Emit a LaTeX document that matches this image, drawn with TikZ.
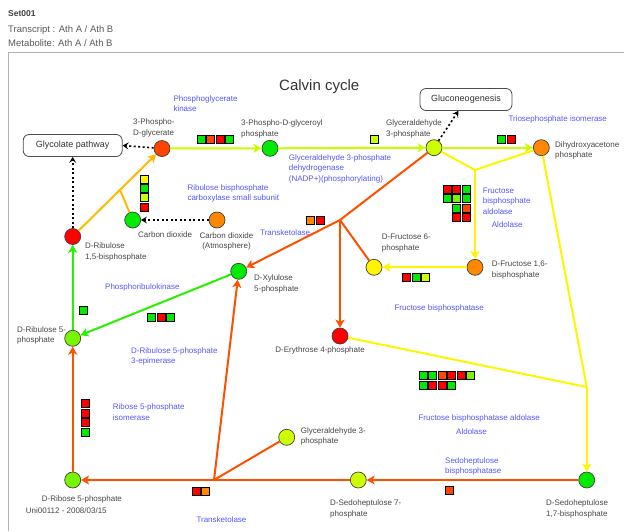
\documentclass[tikz,border=0pt]{standalone}
\usepackage{fontspec}
\setmainfont{Liberation Sans}
\usetikzlibrary{arrows.meta,calc,positioning}

% metabolite / expression colours
\definecolor{mRed}{RGB}{255,0,0}
\definecolor{mOrangeRed}{RGB}{255,69,0}
\definecolor{mOrange}{RGB}{255,136,0}
\definecolor{mGreen}{RGB}{0,235,0}
\definecolor{mLime}{RGB}{120,245,0}
\definecolor{mYelGreen}{RGB}{204,255,0}
\definecolor{mYellow}{RGB}{255,245,0}
% reaction colours
\definecolor{lnOrangeRed}{RGB}{255,80,0}
\definecolor{lnYelGreen}{RGB}{200,255,0}
\definecolor{lnYellow}{RGB}{255,245,0}
\definecolor{lnGreen}{RGB}{40,240,0}
\definecolor{lnAmber}{RGB}{255,185,0}
% text colours
\definecolor{enzblue}{RGB}{85,85,255}
\definecolor{labgray}{RGB}{70,70,70}

\tikzset{
  % metabolites and linked pathways
  metab/.style={circle,draw=black!75,fill=#1,line width=0.7pt,inner sep=0pt,minimum size=16pt},
  pathbox/.style={draw=black!70,rounded corners=6pt,line width=0.8pt,minimum height=22pt,
    inner sep=0pt,font=\fontsize{9}{11}\selectfont,text=black!80},
  % texts
  header/.style={inner sep=0pt,anchor=north west,font=\fontsize{9.5}{11}\selectfont,text=black!65},
  title/.style={inner sep=0pt,anchor=north west,font=\fontsize{15}{18}\selectfont,text=black!80},
  mlabel/.style={inner sep=0pt,align=left,anchor=north west,font=\fontsize{8}{10.5}\selectfont,text=labgray},
  enzyme/.style={mlabel,text=enzblue},
  % reactions: plain, with arrow, and dotted links to other pathways
  react/.style={draw=#1,line width=2pt,line join=round},
  reacto/.style={react=#1,-{Stealth[length=8pt,width=9pt,inset=2pt]}},
  link/.style={line width=1.6pt,dash pattern=on 2pt off 2.5pt,-{Stealth[length=6pt,width=7pt,inset=2.5pt]}},
  % expression squares
  expr/.style={draw=black,fill=#1,line width=0.8pt,inner sep=0pt,minimum size=8pt},
}

\begin{document}
\begin{tikzpicture}[x=1pt,y=-1pt]
  \useasboundingbox (0,0) rectangle (624,531);

  % header and frame
  \node[header,font=\bfseries\fontsize{8.5}{10}\selectfont,text=black!75] (setname) at (8,10.8) {Set001};
  \node[header] (transcript) at (8,25.6) {Transcript : Ath A / Ath B};
  \node[header] (metabolite) at (8,39.3) {Metabolite: Ath A / Ath B};
  \draw[black!30,line width=1pt] (8,531) -- (8,52.5) -- (624,52.5);
  \node[title] (title) at (279,79.5) {Calvin cycle};

  % other pathways
  \node[pathbox,minimum width=99pt] (glycolate) at (72.7,145.5) {Glycolate pathway};
  \node[pathbox,minimum width=92pt] (glucon) at (466,99.5) {Gluconeogenesis};

  % metabolites
  \node[metab=mOrangeRed] (pga) at (162,148.5) {};
  \node[metab=mGreen] (bpga) at (270,148.3) {};
  \node[metab=mYelGreen] (gap) at (434,147.7) {};
  \node[metab=mOrange] (dhap) at (541.3,147.7) {};
  \node[metab=mRed] (rubp) at (72.7,236.5) {};
  \node[metab=mGreen] (co2) at (132.7,220) {};
  \node[metab=mOrange] (co2atm) at (217,220) {};
  \node[metab=mGreen] (xu5p) at (238.7,271.3) {};
  \node[metab=mLime] (ru5p) at (72.7,338.3) {};
  \node[metab=mYellow] (f6p) at (374,267.3) {};
  \node[metab=mOrange] (fbp) at (475,267.3) {};
  \node[metab=mRed] (e4p) at (340,336) {};
  \node[metab=mYelGreen] (gap2) at (286.7,437.3) {};
  \node[metab=mLime] (r5p) at (72.7,480) {};
  \node[metab=mYelGreen] (s7p) at (358.3,480) {};
  \node[metab=mGreen] (sbp) at (586.7,480) {};

  % branch points
  \coordinate (co2fix) at ($(rubp)!0.53!(pga)$);
  \coordinate (tpi) at (475,170);
  \coordinate (tk1) at (340,220);
  \coordinate (sbpj) at (586.7,387);
  \coordinate (tk2) at (214,480);

  % reactions
  \draw[reacto=lnAmber] (rubp) -- (pga);
  \draw[react=lnAmber] (co2) -- (co2fix);
  \draw[reacto=lnYelGreen] (pga) -- (bpga);
  \draw[reacto=lnYelGreen] (bpga) -- (gap);
  \draw[reacto=lnYelGreen] (gap) -- (dhap);
  \draw[react=lnYellow] (gap) -- (tpi) -- (dhap);
  \draw[reacto=lnYellow] (tpi) -- (fbp);
  \draw[reacto=lnYellow] (fbp) -- (f6p);
  \draw[react=lnYellow] (dhap) -- (sbpj) -- (e4p);
  \draw[reacto=lnYellow] (sbpj) -- (sbp);
  \draw[react=lnOrangeRed] (gap) -- (tk1) -- (f6p);
  \draw[reacto=lnOrangeRed] (tk1) -- (xu5p);
  \draw[reacto=lnOrangeRed] (tk1) -- (e4p);
  \draw[reacto=lnOrangeRed] (sbp) -- (s7p);
  \draw[reacto=lnOrangeRed] (s7p) -- (r5p);
  \draw[react=lnOrangeRed] (gap2) -- (tk2);
  \draw[reacto=lnOrangeRed] (tk2) -- (xu5p);
  \draw[reacto=lnOrangeRed] (r5p) -- (ru5p);
  \draw[reacto=lnGreen] (xu5p) -- (ru5p);
  \draw[reacto=lnGreen] (ru5p) -- (rubp);

  % links to other pathways
  \draw[link] (pga) -- (glycolate.east);
  \draw[link] (rubp) -- (glycolate);
  \draw[link] (gap) -- (glucon);
  \draw[link] (co2atm) -- (co2);

  % metabolite names
  \node[mlabel] (l-pga) at (133,118.8) {3-Phospho-\\D-glycerate};
  \node[mlabel] (l-bpga) at (241,119.8) {3-Phospho-D-glyceroyl\\phosphate};
  \node[mlabel] (l-gap) at (386,119.8) {Glyceraldehyde\\3-phosphate};
  \node[mlabel] (l-dhap) at (555,141) {Dihydroxyacetone\\phosphate};
  \node[mlabel] (l-rubp) at (85,242.8) {D-Ribulose\\1,5-bisphosphate};
  \node[mlabel] (l-co2) at (138,231) {Carbon dioxide};
  \node[mlabel,align=center,anchor=north] (l-co2atm) at (226.5,232) {Carbon dioxide\\(Atmosphere)};
  \node[mlabel] (l-xu5p) at (254,274.8) {D-Xylulose\\5-phosphate};
  \node[mlabel] (l-ru5p) at (17,326) {D-Ribulose 5-\\phosphate};
  \node[mlabel] (l-f6p) at (381.7,233.8) {D-Fructose 6-\\phosphate};
  \node[mlabel] (l-fbp) at (491.7,261) {D-Fructose 1,6-\\bisphosphate};
  \node[mlabel,anchor=north east] (l-e4p) at (365,346) {D-Erythrose 4-phosphate};
  \node[mlabel] (l-gap2) at (300.7,427) {Glyceraldehyde 3-\\phosphate};
  \node[mlabel] (l-r5p) at (41.7,495.8) {D-Ribose 5-phosphate};
  \node[mlabel] (stamp) at (25.7,507) {Uni00112 - 2008/03/15};
  \node[mlabel] (l-s7p) at (330,499.8) {D-Sedoheptulose 7-\\phosphate};
  \node[mlabel] (l-sbp) at (546,499.8) {D-Sedoheptulose\\1,7-bisphosphate};

  % enzymes
  \node[enzyme] (e-pgk) at (173.3,95.3) {Phosphoglycerate\\kinase};
  \node[enzyme] (e-gapdh) at (288.7,154.3) {Glyceraldehyde 3-phosphate\\dehydrogenase\\(NADP+)(phosphorylating)};
  \node[enzyme] (e-tpi) at (508.3,115.3) {Triosephosphate isomerase};
  \node[enzyme] (e-rubisco) at (187.3,184) {Ribulose bisphosphate\\carboxylase small subunit};
  \node[enzyme] (e-fba) at (482.7,187.3) {Fructose\\bisphosphate\\aldolase};
  \node[enzyme] (e-ald1) at (491.7,221.7) {Aldolase};
  \node[enzyme] (e-tkt1) at (260,229) {Transketolase};
  \node[enzyme] (e-fbpase) at (394.3,304.7) {Fructose bisphosphatase};
  \node[enzyme] (e-prk) at (105,283) {Phosphoribulokinase};
  \node[enzyme] (e-rpe) at (131,347) {D-Ribulose 5-phosphate\\3-epimerase};
  \node[enzyme] (e-rpi) at (112.7,403.7) {Ribose 5-phosphate\\isomerase};
  \node[enzyme] (e-fbpald) at (418.3,414.3) {Fructose bisphosphatase aldolase};
  \node[enzyme] (e-ald2) at (456,428.7) {Aldolase};
  \node[enzyme] (e-sbpase) at (445,457) {Sedoheptulose\\bisphosphatase};
  \node[enzyme] (e-tkt2) at (196.3,516.3) {Transketolase};

  % expression data
  \foreach \col [count=\i] in {mGreen,mOrangeRed,mRed,mGreen}
    \node[expr=\col] (x-pgk-\i) at ({201+9.5*(\i-1)},139) {};
  \node[expr=mYelGreen] (x-gapdh) at (374,139) {};
  \foreach \col [count=\i] in {mGreen,mRed}
    \node[expr=\col] (x-tpi-\i) at ({501.7+9.5*(\i-1)},139) {};
  \foreach \col [count=\i] in {mYellow,mGreen,mYelGreen,mRed}
    \node[expr=\col] (x-rubisco-\i) at (144,{179+9.3*(\i-1)}) {};
  \foreach \col [count=\i] in {mOrange,mRed}
    \node[expr=\col] (x-tkt1-\i) at ({310.7+9.4*(\i-1)},220.7) {};
  \foreach \col [count=\i] in {mRed,mRed,mGreen}
    \node[expr=\col] (x-fba-a\i) at ({447+9.5*(\i-1)},189.5) {};
  \foreach \col [count=\i] in {mGreen,mLime,mGreen}
    \node[expr=\col] (x-fba-b\i) at ({447+9.5*(\i-1)},198.8) {};
  \foreach \col [count=\i] in {mGreen,mOrangeRed}
    \node[expr=\col] (x-fba-c\i) at ({456.5+9.5*(\i-1)},208.1) {};
  \foreach \col [count=\i] in {mRed,mRed}
    \node[expr=\col] (x-fba-d\i) at ({456.5+9.5*(\i-1)},217.4) {};
  \foreach \col [count=\i] in {mRed,mGreen,mYelGreen}
    \node[expr=\col] (x-fbpase-\i) at ({406.7+9.3*(\i-1)},277.7) {};
  \foreach \col [count=\i] in {mGreen,mRed,mGreen}
    \node[expr=\col] (x-rpe-\i) at ({151.7+9.5*(\i-1)},317.3) {};
  \node[expr=mGreen] (x-prk) at (83,310.7) {};
  \foreach \col [count=\i] in {mRed,mRed,mRed,mGreen}
    \node[expr=\col] (x-rpi-\i) at (85.3,{403.7+9.4*(\i-1)}) {};
  \foreach \col [count=\i] in {mRed,mOrange}
    \node[expr=\col] (x-tkt2-\i) at ({196.3+9.4*(\i-1)},491) {};
  \node[expr=mOrangeRed] (x-sbpase) at (449.7,490.3) {};
  \foreach \col [count=\i] in {mGreen,mGreen,mOrangeRed,mRed,mRed,mLime}
    \node[expr=\col] (x-fbpald-a\i) at ({423.3+9.5*(\i-1)},375.5) {};
  \foreach \col [count=\i] in {mGreen,mRed,mRed,mGreen}
    \node[expr=\col] (x-fbpald-b\i) at ({423.3+9.5*(\i-1)},385) {};
\end{tikzpicture}
\end{document}
